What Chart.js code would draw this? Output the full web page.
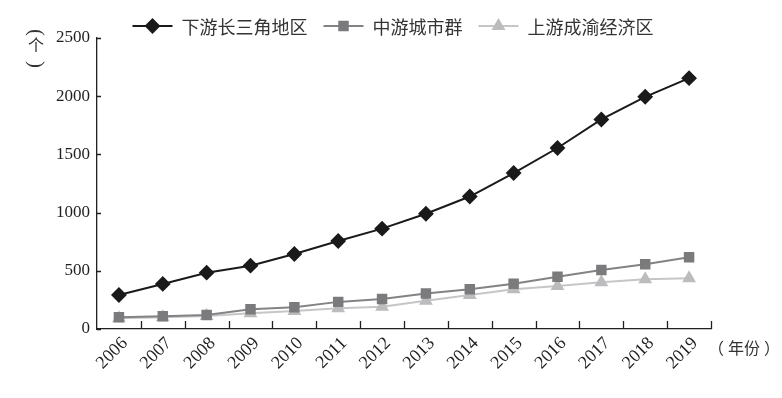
<!DOCTYPE html>
<html>
<head>
<meta charset="utf-8">
<script src="https://cdn.jsdelivr.net/npm/chart.js@4.4.1/dist/chart.umd.min.js"></script>
<style>
  html, body { margin: 0; padding: 0; background: #fff; }
  #wrap { width: 782px; height: 398px; }
</style>
</head>
<body>
<div id="wrap"><canvas id="grafico" width="782" height="398"></canvas></div>
<script>
const anos = ["2006", "2007", "2008", "2009", "2010", "2011", "2012", "2013", "2014", "2015", "2016", "2017", "2018", "2019"];
const nomesSeries = ["下游长三角地区", "中游城市群", "上游成渝经济区"];
const valoresJusante = [292, 387, 484, 544, 644, 756, 862, 990, 1138, 1340, 1555, 1800, 1995, 2155];
const valoresMeio = [100, 110, 120, 170, 186, 233, 258, 305, 341, 389, 449, 507, 556, 616];
const valoresMontante = [92, 100, 111, 135, 155, 178, 192, 243, 292, 341, 369, 401, 427, 435];
const ticksY = [0, 500, 1000, 1500, 2000, 2500];

const fonteSerif = "'Liberation Serif', 'DejaVu Serif', serif";
const fonteCJK = "'Noto Sans CJK SC', 'Noto Sans', sans-serif";
const corEixo = "#231f20";

// legenda desenhada à mão: linha + marcador + texto
const legendaPlugin = {
  id: "legendaLinha",
  afterDraw(chart) {
    const ctx = chart.ctx;
    ctx.save();
    ctx.font = "18px " + fonteCJK;
    const simbolo = 40, gapTexto = 9, gapItem = 16;
    const itens = chart.data.datasets.map((ds) => ({
      ds,
      w: ctx.measureText(ds.label).width,
    }));
    let total = 0;
    itens.forEach((it, i) => {
      total += simbolo + gapTexto + it.w + (i < itens.length - 1 ? gapItem : 0);
    });
    let x = 393 - total / 2;
    const y = 26;
    itens.forEach((it) => {
      const ds = it.ds;
      ctx.strokeStyle = ds.borderColor;
      ctx.lineWidth = 2;
      ctx.beginPath();
      ctx.moveTo(x, y);
      ctx.lineTo(x + simbolo, y);
      ctx.stroke();
      ctx.fillStyle = ds.pointBackgroundColor;
      ctx.strokeStyle = ds.pointBackgroundColor;
      Chart.helpers.drawPoint(ctx, {
        pointStyle: ds.pointStyle,
        radius: ds.pointRadius,
        rotation: 0,
        borderWidth: 1,
      }, x + simbolo / 2, y);
      ctx.fillStyle = "#333";
      ctx.textBaseline = "middle";
      ctx.textAlign = "left";
      ctx.fillText(ds.label, x + simbolo + gapTexto, y + 1);
      x += simbolo + gapTexto + it.w + gapItem;
    });
    ctx.restore();
  },
};

// marcas dos eixos voltadas para dentro + títulos
const eixosPlugin = {
  id: "eixosExtras",
  afterDraw(chart) {
    const ctx = chart.ctx;
    const sx = chart.scales.x;
    const sy = chart.scales.y;
    const area = chart.chartArea;
    ctx.save();
    ctx.strokeStyle = corEixo;
    ctx.lineWidth = 1.3;
    ctx.beginPath();
    sy.ticks.forEach((t) => {
      const py = Math.round(sy.getPixelForValue(t.value)) + 0.5;
      ctx.moveTo(area.left, py);
      ctx.lineTo(area.left + 4, py);
    });
    for (let i = 1; i <= anos.length; i++) {
      const px = Math.round(sx.getPixelForValue(i - 0.5)) + 0.5;
      ctx.moveTo(px, area.bottom);
      ctx.lineTo(px, area.bottom - 8);
    }
    ctx.stroke();

    ctx.fillStyle = "#333";
    ctx.textAlign = "center";
    ctx.textBaseline = "middle";
    // parênteses verticais: "(" e ")" girados
    ctx.font = "21px " + fonteSerif;
    ctx.save();
    ctx.translate(36, 32.5);
    ctx.rotate(Math.PI / 2);
    ctx.fillText("(", 0, 0);
    ctx.restore();
    ctx.save();
    ctx.translate(36, 64.5);
    ctx.rotate(Math.PI / 2);
    ctx.fillText(")", 0, 0);
    ctx.restore();
    ctx.font = "16px " + fonteCJK;
    ctx.fillText("个", 36, 45);

    ctx.textAlign = "center";
    ctx.font = "16px " + fonteCJK;
    ctx.fillText("（", 716, 348);
    ctx.fillText("年份", 744, 348);
    ctx.fillText("）", 772, 348);
    ctx.restore();
  },
};

new Chart(document.getElementById("grafico"), {
  type: "line",
  data: {
    labels: anos,
    datasets: [
      {
        label: nomesSeries[0],
        data: valoresJusante,
        borderColor: "#1a1a1a",
        backgroundColor: "#1a1a1a",
        pointBackgroundColor: "#1a1a1a",
        pointBorderColor: "#1a1a1a",
        pointStyle: "rectRot",
        pointRadius: 6.5,
        borderWidth: 2,
      },
      {
        label: nomesSeries[1],
        data: valoresMeio,
        borderColor: "#838385",
        backgroundColor: "#7b7b7d",
        pointBackgroundColor: "#7b7b7d",
        pointBorderColor: "#7b7b7d",
        pointStyle: "rect",
        pointRadius: 6,
        borderWidth: 2,
      },
      {
        label: nomesSeries[2],
        data: valoresMontante,
        borderColor: "#c6c6c8",
        backgroundColor: "#bcbcbe",
        pointBackgroundColor: "#bcbcbe",
        pointBorderColor: "#bcbcbe",
        pointStyle: "triangle",
        pointRadius: 6,
        borderWidth: 2,
      },
    ],
  },
  options: {
    responsive: false,
    animation: false,
    layout: { padding: { top: 38, right: 71, left: 0, bottom: 0 } },
    plugins: {
      legend: { display: false },
      tooltip: { enabled: false },
    },
    elements: { line: { tension: 0 } },
    scales: {
      x: {
        offset: true,
        grid: { display: false, drawTicks: false, offset: true },
        border: { display: true, color: corEixo, width: 1.3 },
        ticks: {
          color: corEixo,
          font: { family: fonteSerif, size: 18 },
          minRotation: 45,
          maxRotation: 45,
          padding: 4,
          labelOffset: 6,
        },
        afterFit(scale) {
          scale.height = 69;
        },
      },
      y: {
        min: 0,
        max: 2500,
        afterBuildTicks(scale) {
          scale.ticks = ticksY.map((v) => ({ value: v }));
        },
        grid: { display: false, drawTicks: false },
        border: { display: true, color: corEixo, width: 1.3 },
        ticks: {
          color: corEixo,
          font: { family: fonteSerif, size: 17 },
          padding: 7,
          callback: (v) => String(v),
        },
        afterFit(scale) {
          scale.width = 97;
        },
      },
    },
  },
  plugins: [legendaPlugin, eixosPlugin],
});
</script>
</body>
</html>
